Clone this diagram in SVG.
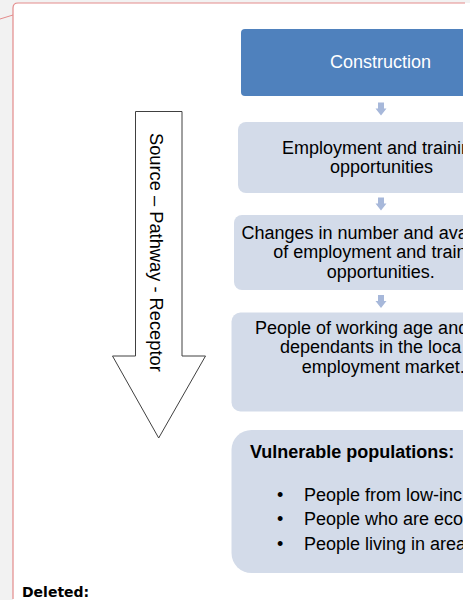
<svg xmlns="http://www.w3.org/2000/svg" width="470" height="600" viewBox="0 0 470 600">
<style>
.t{font-family:"Liberation Sans",Arial,sans-serif;font-size:18px;fill:#000}
.w{fill:#fff}
.b{font-weight:bold}
.box{fill:#d3dbe9}
.con{fill:#a7b8da}
</style>
<defs>
<clipPath id="clip"><rect x="0" y="0" width="463" height="600"/></clipPath>
</defs>
<rect x="0" y="0" width="470" height="600" fill="#f2f2f2"/>
<path d="M13,600 V8 Q13,3 18,3 H470 V600 Z" fill="#fff"/>
<path d="M13,599 V8 Q13,3 18,3 H465" fill="none" stroke="#e38b8b" stroke-width="1.2"/>
<line x1="0" y1="19" x2="13" y2="15" stroke="#e38b8b" stroke-width="1"/>
<g clip-path="url(#clip)">
<g id="construction">
<rect x="241" y="29" width="280" height="67" rx="4" fill="#4f81bd"/>
<text class="t w" x="330" y="68">Construction</text>
</g>
<g id="employment">
<rect class="box" x="238" y="122" width="285" height="71" rx="8"/>
<text class="t" x="282" y="153.5">Employment and trainin</text>
<text class="t" x="330" y="172.5">opportunities</text>
</g>
<g id="changes">
<rect class="box" x="234" y="215" width="290" height="75" rx="8"/>
<text class="t" x="241.5" y="239">Changes in number and ava</text>
<text class="t" x="273.3" y="258.3">of employment and train</text>
<text class="t" x="326.7" y="277.7">opportunities.</text>
</g>
<g id="people">
<rect class="box" x="231.5" y="312.5" width="295" height="99" rx="9"/>
<text class="t" x="255" y="334">People of working age and</text>
<text class="t" x="280" y="353.3">dependants in the loca</text>
<text class="t" x="301.7" y="372.6">employment market.</text>
</g>
<g id="vulnerable">
<rect class="box" x="231.5" y="430" width="300" height="143" rx="20"/>
<text class="t b" x="250" y="458">Vulnerable populations:</text>
<text class="t" x="277" y="500.5">•</text>
<text class="t" x="304" y="500.5">People from low-inc</text>
<text class="t" x="277" y="525">•</text>
<text class="t" x="304" y="525">People who are eco</text>
<text class="t" x="277" y="549.5">•</text>
<text class="t" x="304" y="549.5">People living in area</text>
</g>
<g id="connectors">
<polygon class="con" points="378,102.5 384,102.5 384,108.5 386.5,108.5 381,115.5 375.5,108.5 378,108.5"/>
<polygon class="con" points="378,197.5 384,197.5 384,203.5 386.5,203.5 381,210.5 375.5,203.5 378,203.5"/>
<polygon class="con" points="378,295 384,295 384,301 386.5,301 381,308 375.5,301 378,301"/>
</g>
</g>
<g id="source-pathway-receptor">
<polygon points="135.5,111.5 182,111.5 182,356 205.5,356 158.7,438 112.5,356 135.5,356" fill="#fff" stroke="#404040" stroke-width="1"/>
<text class="t" style="font-size:18.3px" transform="translate(150,133) rotate(90)">Source – Pathway - Receptor</text>
</g>
<text x="22" y="597" style="font-family:'DejaVu Sans',Verdana,sans-serif;font-size:14px;font-weight:bold;fill:#000">Deleted:</text>
</svg>
